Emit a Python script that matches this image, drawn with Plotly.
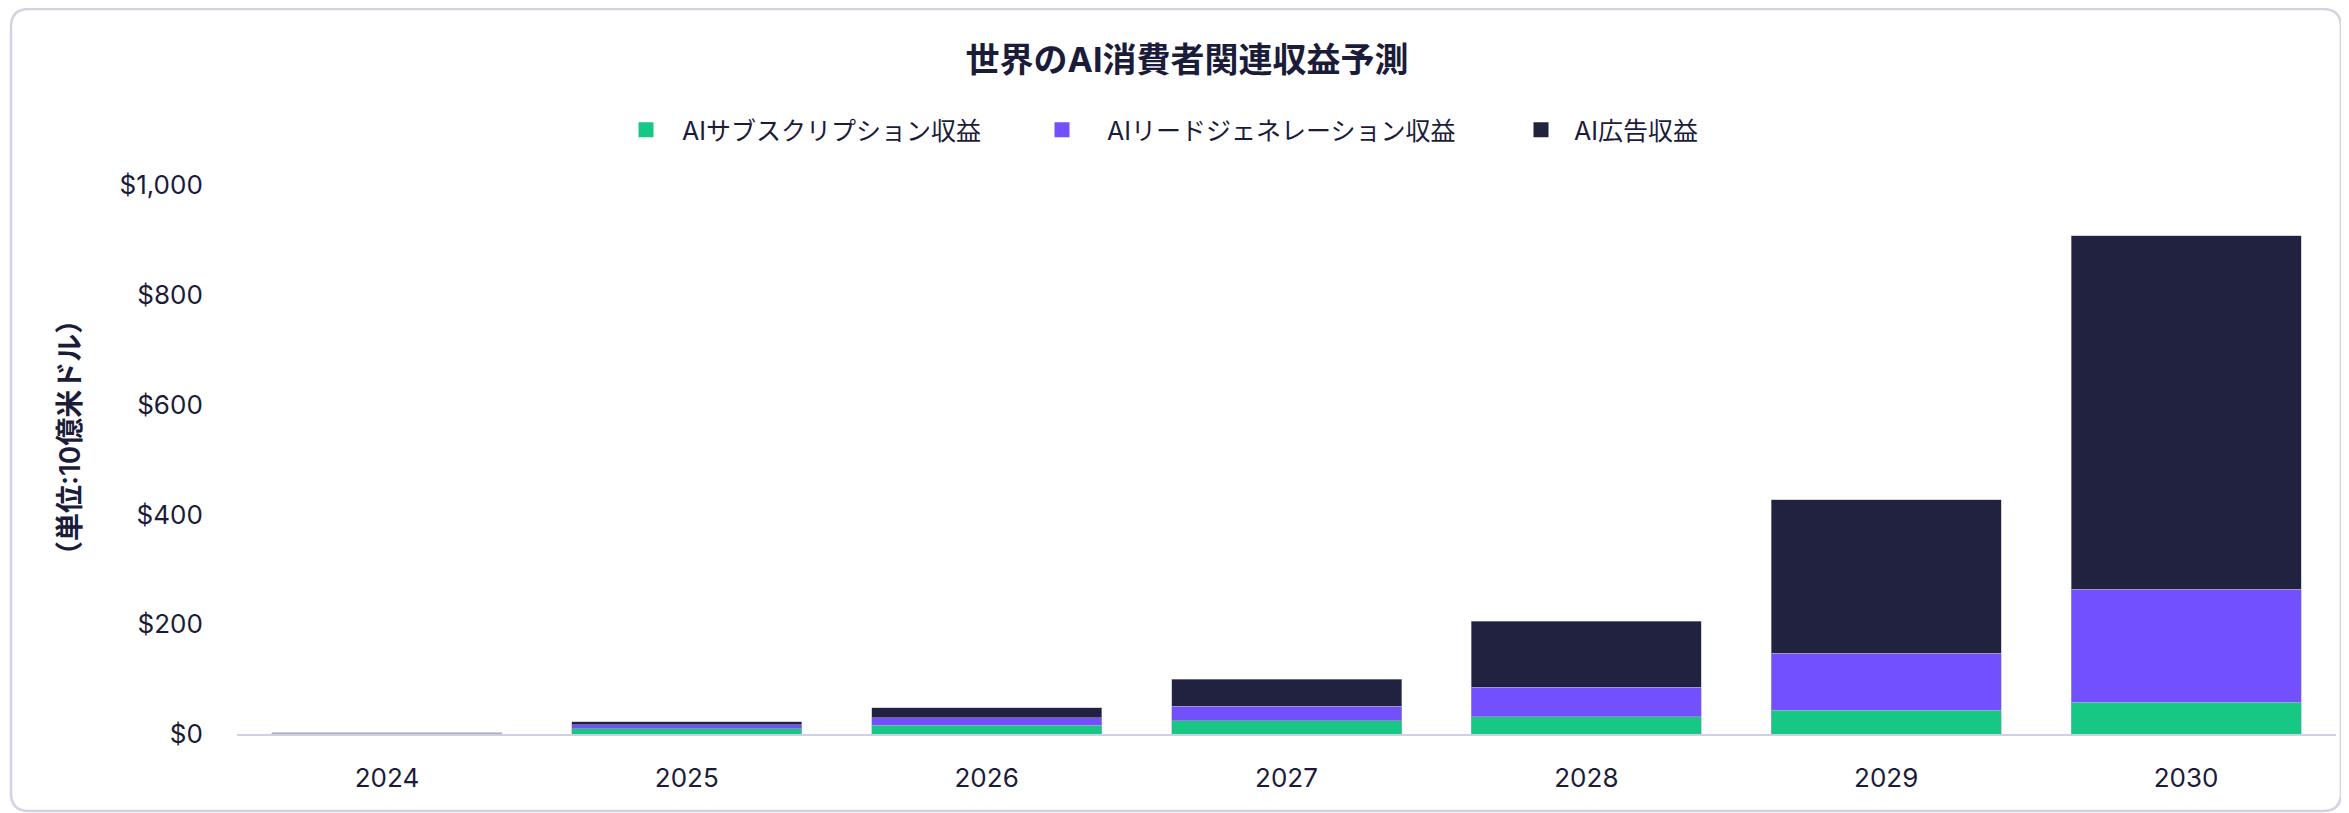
import plotly.graph_objects as go

# ---- data (values in billions USD) ----
years = ["2024", "2025", "2026", "2027", "2028", "2029", "2030"]
subscription = [1.2, 9.5, 16.0, 24.0, 31.7, 43.5, 58.0]
lead_gen = [0.6, 7.2, 14.0, 26.6, 53.5, 103.7, 205.5]
advertising = [0.4, 6.0, 18.2, 49.1, 120.4, 279.8, 644.2]

series_names = ["AIサブスクリプション収益", "AIリードジェネレーション収益", "AI広告収益"]
y_tick_vals = [0, 200, 400, 600, 800, 1000]
y_tick_text = ["$0", "$200", "$400", "$600", "$800", "$1,000"]

title_text = "世界のAI消費者関連収益予測"
y_title_text = "（単位:10億米ドル）"

# ---- style ----
colors = ["#17C784", "#7350FF", "#20223F"]
text_color = "#1B1C3A"
font_family = "Inter, 'Noto Sans CJK JP', sans-serif"
OFF = 8  # page body margin
W, H = 2349 - OFF, 813 - OFF
ML, MR, MT, MB = 229, 13, 177, 79

fig = go.Figure()
for vals, name, col in zip([subscription, lead_gen, advertising], series_names, colors):
    fig.add_trace(go.Bar(
        x=years, y=vals, name=name, showlegend=False,
        marker=dict(color=col, line=dict(color="rgba(170,170,195,0.9)", width=0.6)),
    ))

legend_ids = ["legend", "legend2", "legend3"]
for name, col, lid in zip(series_names, colors, legend_ids):
    fig.add_trace(go.Scatter(
        x=[None], y=[None], mode="markers", name=name, legend=lid,
        marker=dict(symbol="square", size=15, color=col),
    ))

legend_x_px = [602, 1009, 1500]
legend_item_w = [62, 80, 56]
legend_y = 1 - 122 / H
legends = {}
for lid, xp, iw in zip(legend_ids, legend_x_px, legend_item_w):
    legends[lid] = dict(orientation="h", xref="container", yref="container",
                        xanchor="left", yanchor="middle", y=legend_y, x=xp / W,
                        itemwidth=iw, bgcolor="rgba(0,0,0,0)",
                        font=dict(family=font_family, size=25, color=text_color))

# card border (rounded rect) in paper coords
pw = W - ML - MR
ph = H - MT - MB
def px2paper(px, py):
    return (px - ML) / pw, (H - MB - py) / ph

def rounded_rect(x0, y0, x1, y1, r):
    def P(px, py):
        a, b = px2paper(px, py)
        return f"{a:.6f},{b:.6f}"
    return (f"M {P(x0 + r, y0)} L {P(x1 - r, y0)} Q {P(x1, y0)} {P(x1, y0 + r)} "
            f"L {P(x1, y1 - r)} Q {P(x1, y1)} {P(x1 - r, y1)} "
            f"L {P(x0 + r, y1)} Q {P(x0, y1)} {P(x0, y1 - r)} "
            f"L {P(x0, y0 + r)} Q {P(x0, y0)} {P(x0 + r, y0)} Z")

fig.add_shape(type="path", xref="paper", yref="paper",
              path=rounded_rect(3, 1, 2333, 803, 18),
              line=dict(color="#D2D2E4", width=2.5), fillcolor="rgba(0,0,0,0)",
              layer="below")

ax, ay = px2paper(62, 430)
fig.add_annotation(text=y_title_text, xref="paper", yref="paper",
                   x=ax, y=ay, textangle=-90, showarrow=False,
                   xanchor="center", yanchor="middle",
                   font=dict(family=font_family, size=28, color=text_color, weight=600))

fig.update_layout(
    width=W, height=H,
    margin=dict(l=ML, r=MR, t=MT, b=MB, pad=0),
    barmode="stack", bargap=0.233,
    paper_bgcolor="white", plot_bgcolor="white",
    font=dict(family=font_family, color=text_color),
    title=dict(text=title_text, x=1179 / W, xanchor="center", xref="container",
               y=1 - 52 / H, yanchor="middle", yref="container",
               font=dict(family=font_family, size=34, color=text_color, weight="bold")),
    **legends,
)
fig.update_xaxes(showgrid=False, showline=True, linecolor="#CFCFE8", linewidth=2,
                 ticks="outside", ticklen=20, tickcolor="rgba(0,0,0,0)",
                 tickfont=dict(family=font_family, size=26, color=text_color),
                 zeroline=False)
fig.update_yaxes(range=[0, 1000], showgrid=False, showline=False, zeroline=False,
                 tickvals=y_tick_vals, ticktext=y_tick_text,
                 ticks="outside", ticklen=28, tickcolor="rgba(0,0,0,0)",
                 tickfont=dict(family=font_family, size=26, color=text_color))

fig.write_html("out.html")
